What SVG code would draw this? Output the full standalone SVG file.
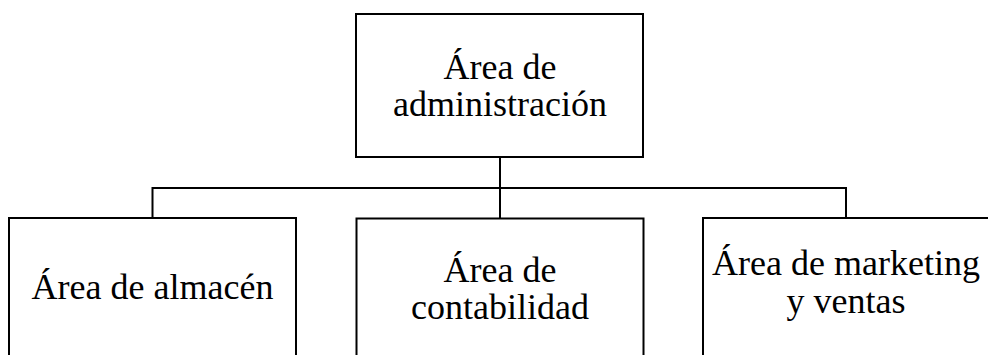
<svg xmlns="http://www.w3.org/2000/svg" width="988" height="355" viewBox="0 0 988 355">
<style>
.box{fill:#fff;stroke:#000;stroke-width:2}
.lbl{font-family:"Liberation Serif","Times New Roman",serif;font-size:36px;fill:#000;text-anchor:middle}
.conn{fill:none;stroke:#000;stroke-width:2}
</style>
<rect width="988" height="355" fill="#fff"/>
<g id="connectors">
<path class="conn" d="M500,157 V218 M152.5,218 V188 H846 V218"/>
</g>
<g id="admin">
<rect class="box" x="356" y="14" width="287" height="143"/>
<text class="lbl" x="500" y="78.5">Área de</text>
<text class="lbl" x="500" y="116">administración</text>
</g>
<g id="almacen">
<rect class="box" x="9" y="218" width="287" height="143"/>
<text class="lbl" x="152.5" y="299">Área de almacén</text>
</g>
<g id="contabilidad">
<rect class="box" x="356.5" y="218.5" width="287" height="143"/>
<text class="lbl" x="500" y="281.5">Área de</text>
<text class="lbl" x="500" y="319">contabilidad</text>
</g>
<g id="marketing">
<rect class="box" x="703" y="218" width="287" height="143"/>
<text class="lbl" x="846" y="275">Área de marketing</text>
<text class="lbl" x="846" y="313">y ventas</text>
</g>
</svg>
